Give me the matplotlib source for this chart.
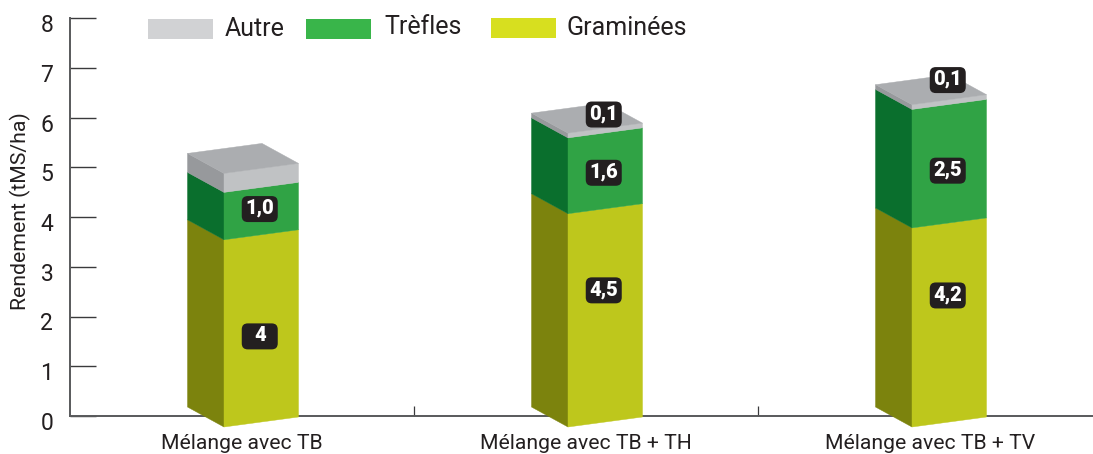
import matplotlib
matplotlib.use("Agg")
import matplotlib.pyplot as plt
from matplotlib.patches import Polygon, Rectangle, FancyBboxPatch
from matplotlib.transforms import ScaledTranslation

plt.rcParams['font.family'] = ['Roboto', 'DejaVu Sans']

categories = ["Mélange avec TB", "Mélange avec TB + TH", "Mélange avec TB + TV"]
graminees = [3.95, 4.5, 4.2]
trefles = [1.0, 1.6, 2.5]
autre = [0.4, 0.1, 0.1]
graminees_labels = ["4", "4,5", "4,2"]
trefles_labels = ["1,0", "1,6", "2,5"]
autre_labels = [None, "0,1", "0,1"]
y_ticks = [0, 1, 2, 3, 4, 5, 6, 7, 8]

W, H = 1093, 454
AX_L, AX_B, AX_T = 70, 416, 18
CAT_PX = 344.0
PX_Y = (AX_B - AX_T) / 8.0

fig = plt.figure(figsize=(W / 100, H / 100), dpi=100, facecolor="white")
ax = fig.add_axes([AX_L / W, 1 - AX_B / H, (W - AX_L) / W, (AX_B - AX_T) / H])
ax.set_xlim(-0.5, -0.5 + (W - AX_L) / CAT_PX)
ax.set_ylim(0, 8)
for s in ("top", "right"):
    ax.spines[s].set_visible(False)
for s in ("left", "bottom"):
    ax.spines[s].set_color("#58595b")
    ax.spines[s].set_linewidth(1.4)

ax.set_yticks(y_ticks)
ax.tick_params(axis="y", direction="in", length=18.5, width=1.0, color="#3a3a3c",
               labelsize=16.5, pad=12, labelcolor="#231f20")
off = ScaledTranslation(0, -5 / 100, fig.dpi_scale_trans)
for lab in ax.get_yticklabels():
    lab.set_transform(lab.get_transform() + off)
ax.set_xticks(range(len(categories)))
ax.set_xticklabels(categories)
ax.tick_params(axis="x", which="major", length=0, labelsize=15.2, pad=13, labelcolor="#231f20")
ax.set_xticks([0.5, 1.5], minor=True)
ax.tick_params(axis="x", which="minor", direction="in", length=7, width=0.9, color="#3a3a3c")
ax.set_ylabel("Rendement (tMS/ha)", fontsize=15.3, color="#231f20", labelpad=0)
ax.yaxis.set_label_coords(-0.038, 0.515)

# 3D geometry, in axis units
side_w = 36.5 / CAT_PX
front_w = 74.5 / CAT_PX
half = (side_w + front_w) / 2 - 1 / CAT_PX
base = -11 / PX_Y
h_scale = 47.4 / PX_Y
side_dy = 20 / PX_Y
front_dy = 10 / PX_Y

layers = [
    (graminees, "#bec71c", "#7c830d", graminees_labels, [-8, 25, 27]),
    (trefles, "#30a345", "#0a6f2d", trefles_labels, [2, -2, -7]),
    (autre, "#c0c2c4", "#97999c", autre_labels, [0, 0, 6]),
]
TOP = "#abadb0"

def panel(pts, color):
    ax.add_patch(Polygon(pts, closed=True, facecolor=color, edgecolor=color, linewidth=0.3,
                         clip_on=False, zorder=3))

def badge(text, x, y, dy_px):
    """Fixed-size rounded label, centred on a data point."""
    anchor = ScaledTranslation(x, y, ax.transData)
    bw, bh, r = 36 / 100, 26 / 100, 6 / 100
    cx, cy = -1.5 / 100, dy_px / 100
    ax.add_patch(FancyBboxPatch((cx - bw / 2 + r, cy - bh / 2 + r), bw - 2 * r, bh - 2 * r,
                                boxstyle=f"round,pad={r},rounding_size={r}",
                                transform=fig.dpi_scale_trans + anchor,
                                facecolor="#231f20", edgecolor="none", clip_on=False, zorder=5))
    ax.annotate(text, (x, y), xytext=(cx * 72, cy * 72 + 0.4), textcoords="offset points",
                ha="center", va="center", fontsize=14.5, fontweight="black", color="white",
                zorder=6, annotation_clip=False)

for i in range(len(categories)):
    x_l = i - half
    x_c = x_l + side_w
    x_r = x_c + front_w
    bottom = base
    for values, front, side, labels, shift in layers:
        top = bottom + values[i] * h_scale
        panel([(x_l, bottom + side_dy), (x_c, bottom), (x_c, top), (x_l, top + side_dy)], side)
        panel([(x_c, bottom), (x_r, bottom + front_dy), (x_r, top + front_dy), (x_c, top)], front)
        bottom = top
    panel([(x_l, top + side_dy), (x_c, top), (x_r, top + front_dy),
           (x_r - side_w, top + front_dy + side_dy), ], TOP)

    bottom = base
    xm = (x_c + x_r) / 2
    for values, front, side, labels, shift in layers:
        top = bottom + values[i] * h_scale
        if labels[i] is not None:
            if labels is autre_labels:
                ym = top + (front_dy + side_dy) * 0.62
            else:
                ym = (bottom + top) / 2 + front_dy / 2
            badge(labels[i], xm, ym, shift[i])
        bottom = top

# Legend
legend_items = [
    ("Autre", "#d1d2d4", 148, 19, 225, 29),
    ("Trèfles", "#39b54a", 306, 19, 384, 27),
    ("Graminées", "#d7df1f", 491, 18, 567, 28),
]
for name, col, px, py, tx, ty in legend_items:
    fig.add_artist(Rectangle((px / W, 1 - (py + 20) / H), 65 / W, 20 / H,
                             transform=fig.transFigure, facecolor=col, edgecolor="none"))
    fig.text(tx / W, 1 - ty / H, name, fontsize=18, color="#231f20", ha="left", va="center")

fig.savefig("out.png", dpi=100)
